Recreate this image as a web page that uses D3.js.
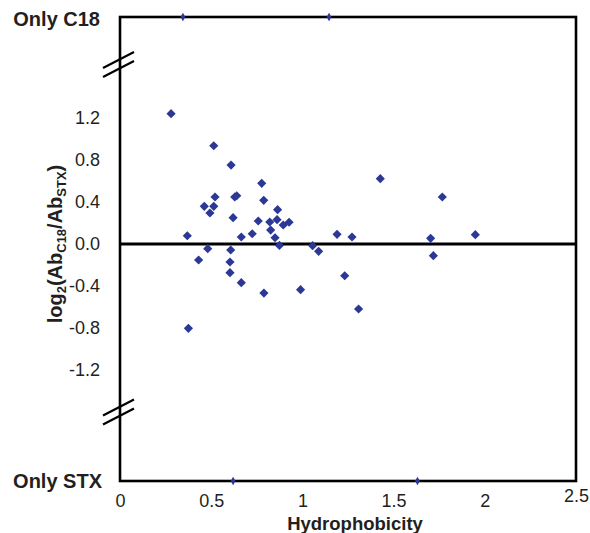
<!DOCTYPE html>
<html>
<head>
<meta charset="utf-8">
<script src="https://cdn.jsdelivr.net/npm/d3@7"></script>
<style>
  html, body { margin: 0; padding: 0; background: #fff; }
  svg { display: block; font-family: "Liberation Sans", Arial, sans-serif; }
</style>
</head>
<body>
<svg id="chart" width="590" height="533"></svg>
<script>
// Hydrophobicity (x) and log2(AbC18/AbSTX) (y)
const hydro = [0.280, 0.514, 0.609, 0.777, 0.521, 0.462, 0.514, 0.493, 0.629, 0.640,
               0.788, 0.620, 0.864, 0.758, 0.821, 0.861, 0.826, 0.895, 0.927, 0.369,
               0.665, 0.725, 0.850, 0.874, 1.056, 1.089, 1.190, 1.272, 0.481, 0.607,
               0.431, 0.603, 0.603, 0.665, 1.232, 0.990, 0.789, 1.308, 0.375, 1.427,
               1.767, 1.703, 1.948, 1.718];
const logRatio = [1.241, 0.936, 0.752, 0.578, 0.448, 0.359, 0.359, 0.295, 0.448, 0.460,
                  0.416, 0.251, 0.327, 0.219, 0.210, 0.232, 0.133, 0.181, 0.207, 0.079,
                  0.067, 0.098, 0.060, -0.013, -0.016, -0.070, 0.092, 0.067, -0.044, -0.057,
                  -0.152, -0.171, -0.273, -0.368, -0.302, -0.435, -0.467, -0.619, -0.803, 0.622,
                  0.448, 0.054, 0.089, -0.111];
// proteins found only in one fraction
const onlyC18Hydro = [0.345, 1.146];
const onlySTXHydro = [0.620, 1.631];

const xTicks = [0, 0.5, 1, 1.5, 2, 2.5];
const yTicks = [-1.2, -0.8, -0.4, 0.0, 0.4, 0.8, 1.2];
const onlyC18Label = "Only C18";
const onlySTXLabel = "Only STX";
const xTitle = "Hydrophobicity";

const svg = d3.select("#chart");
const mL = 120, mR = 576, mT = 17, mB = 481;
const x = d3.scaleLinear().domain([0, 2.5]).range([mL, mR]);
const y = d3.scaleLinear().domain([-2.257, 2.162]).range([mB, mT]);
const textColor = "#231f20";
const markColor = "#2b3895";

// x axis labels
const xAxis = d3.axisBottom(x).tickValues(xTicks).tickSize(0).tickPadding(13)
  .tickFormat(d => String(d));
const gx = svg.append("g").attr("transform", `translate(0,${mB})`).call(xAxis);
gx.select(".domain").remove();
gx.selectAll("text").attr("font-size", 18).attr("fill", textColor)
  .attr("font-family", "Liberation Sans, Arial, sans-serif")
  .attr("dy", (d) => d === 2.5 ? "0.45em" : "0.71em");

// y axis labels
const yAxis = d3.axisLeft(y).tickValues(yTicks).tickSize(0).tickPadding(20)
  .tickFormat(d => d.toFixed(1));
const gy = svg.append("g").attr("transform", `translate(${mL},0)`).call(yAxis);
gy.select(".domain").remove();
gy.selectAll("text").attr("font-size", 18).attr("fill", textColor)
  .attr("font-family", "Liberation Sans, Arial, sans-serif");

// Only C18 / Only STX labels
svg.append("text").attr("x", 100).attr("y", y.range()[1] + 2).attr("dy", "0.35em")
  .attr("text-anchor", "end").attr("font-size", 20).attr("font-weight", "bold")
  .attr("fill", textColor).text(onlyC18Label);
svg.append("text").attr("x", 102).attr("y", y.range()[0]).attr("dy", "0.35em")
  .attr("text-anchor", "end").attr("font-size", 20).attr("font-weight", "bold")
  .attr("fill", textColor).text(onlySTXLabel);

// zero line
svg.append("line").attr("x1", mL).attr("x2", mR).attr("y1", y(0)).attr("y2", y(0))
  .attr("stroke", "#000").attr("stroke-width", 3);

// points
const sym = d3.symbol().type(d3.symbolSquare).size(42);
svg.append("g").selectAll("path").data(hydro.map((h, i) => [h, logRatio[i]])).join("path")
  .attr("d", sym)
  .attr("transform", d => `translate(${x(d[0])},${y(d[1])}) rotate(45)`)
  .attr("fill", markColor);

// frame
svg.append("rect").attr("x", mL).attr("y", mT).attr("width", mR - mL).attr("height", mB - mT)
  .attr("fill", "none").attr("stroke", "#000").attr("stroke-width", 2.6);

// edge points (drawn on the frame)
const symSmall = d3.symbol().type(d3.symbolDiamond).size(20);
svg.append("g").selectAll("path").data(onlyC18Hydro).join("path")
  .attr("d", symSmall)
  .attr("transform", d => `translate(${x(d)},${y.range()[1]})`)
  .attr("fill", markColor);
svg.append("g").selectAll("path").data(onlySTXHydro).join("path")
  .attr("d", symSmall)
  .attr("transform", d => `translate(${x(d)},${y.range()[0]})`)
  .attr("fill", markColor);

// axis break marks
function breakMarks(cy) {
  const g = svg.append("g").attr("stroke", "#000").attr("stroke-width", 2.2);
  [-4.5, 4.5].forEach(off => {
    g.append("line")
      .attr("x1", mL - 17).attr("y1", cy + off + 8)
      .attr("x2", mL + 14).attr("y2", cy + off - 8);
  });
}
breakMarks(y(1.71));
breakMarks(y(-1.6));

// axis titles
svg.append("text").attr("x", 355).attr("y", 530).attr("text-anchor", "middle")
  .attr("font-size", 18.5).attr("font-weight", "bold").attr("fill", textColor).text(xTitle);

const yt = svg.append("text").attr("transform", `translate(62,${y(0)}) rotate(-90)`)
  .attr("text-anchor", "middle").attr("font-size", 20).attr("font-weight", "bold").attr("fill", textColor);
yt.append("tspan").text("log");
yt.append("tspan").attr("font-size", 13).attr("dy", 4).text("2");
yt.append("tspan").attr("dy", -4).text("(Ab");
yt.append("tspan").attr("font-size", 13).attr("dy", 4).text("C18");
yt.append("tspan").attr("dy", -4).text("/Ab");
yt.append("tspan").attr("font-size", 13).attr("dy", 4).text("STX");
yt.append("tspan").attr("dy", -4).text(")");
</script>
</body>
</html>
